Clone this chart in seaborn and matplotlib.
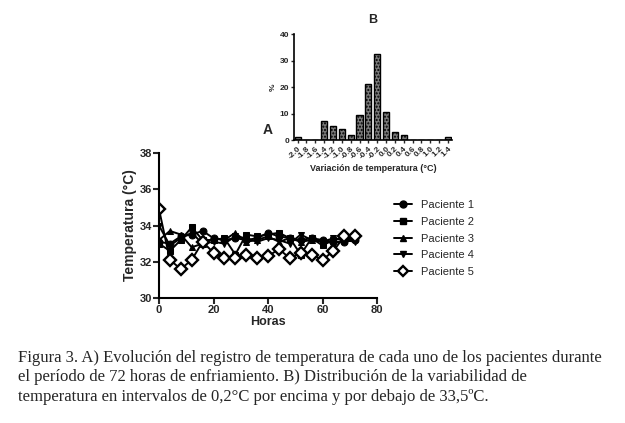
import numpy as np
import pandas as pd
import seaborn as sns
import matplotlib.pyplot as plt

# A) temperature per patient every 4 h
horas = [0, 4, 8, 12, 16, 20, 24, 28, 32, 36, 40, 44, 48, 52, 56, 60, 64, 68, 72]
paciente_1 = [33.1, 33.0, 33.4, 33.5, 33.7, 33.3, 33.2, 33.3, 33.2, 33.3, 33.6, 33.4, 33.3, 33.2, 33.3, 33.2, 33.1, 33.1, 33.2]
paciente_2 = [33.0, 32.6, 33.2, 33.9, 33.2, 33.2, 33.3, 32.4, 33.5, 33.4, 33.5, 33.6, 33.3, 32.4, 33.3, 32.9, 33.2, 33.3, 33.3]
paciente_3 = [33.2, 33.7, 33.5, 32.8, 33.0, 33.3, 33.2, 33.6, 33.1, 33.2, 33.4, 33.1, 33.3, 33.1, 33.2, 33.2, 33.0, 33.2, 33.3]
paciente_4 = [34.0, 32.9, 33.3, 33.6, 33.0, 33.1, 33.0, 33.4, 33.3, 33.1, 33.3, 33.2, 33.0, 33.5, 33.2, 33.1, 33.3, 33.2, 33.1]
paciente_5 = [34.9, 32.1, 31.6, 32.1, 33.1, 32.5, 32.2, 32.2, 32.4, 32.2, 32.3, 32.7, 32.2, 32.5, 32.4, 32.1, 32.6, 33.4, 33.4]

# B) distribution of variability
intervalos = ['-2.0', '-1.8', '-1.6', '-1.4', '-1.2', '-1.0', '-0.8', '-0.6', '-0.4',
              '-0.2', '0.0', '0.2', '0.4', '0.6', '0.8', '1.0', '1.2', '1.4']
porcentaje = [1, 0, 0, 7.2, 5.1, 4.1, 2.0, 9.4, 21.0, 32.5, 10.4, 3.0, 2.0, 0, 0, 0, 0, 1.0]

sns.set_style('white')
plt.rcParams['font.family'] = ['Liberation Sans', 'DejaVu Sans']
plt.rcParams['hatch.color'] = '#cfcfcf'

series = [paciente_1, paciente_2, paciente_3, paciente_4, paciente_5]
nombres = ['Paciente %d' % (i + 1) for i in range(5)]
df = pd.DataFrame({
    'Horas': horas * 5,
    'Temp': sum(series, []),
    'Paciente': sum([[n] * len(horas) for n in nombres], []),
})

fig = plt.figure(figsize=(6.25, 4.23), dpi=100)
fig.patch.set_facecolor('white')

# ---- panel A
ax = fig.add_axes([0.2544, 0.2955, 0.3488, 0.3428])
markers = {'Paciente 1': 'o', 'Paciente 2': 's', 'Paciente 3': '^',
           'Paciente 4': 'v', 'Paciente 5': 'D'}
sns.lineplot(data=df, x='Horas', y='Temp', hue='Paciente', style='Paciente',
             markers=markers, dashes=False, palette=['black'] * 5,
             linewidth=1.4, markersize=5, markeredgecolor='black', ax=ax, legend=False)
ax.lines[4].set_markerfacecolor('white')
ax.lines[4].set_markeredgewidth(1.7)
ax.lines[4].set_markersize(6)

ax.set_xlim(0, 80)
ax.set_ylim(30, 38)
ax.set_xticks([0, 20, 40, 60, 80])
ax.set_yticks([30, 32, 34, 36, 38])
sns.despine(ax=ax)
for s in ['left', 'bottom']:
    ax.spines[s].set_linewidth(1.5)
    ax.spines[s].set_color('black')
ax.tick_params(direction='out', length=4, width=1.5, labelsize=8, pad=1,
               left=True, bottom=True)
for t in ax.get_xticklabels() + ax.get_yticklabels():
    t.set_fontweight('bold')
ax.set_xlabel('Horas', fontsize=9, fontweight='bold', labelpad=1)
ax.set_ylabel('Temperatura (°C)', fontsize=10, fontweight='bold', labelpad=2)
ax.set_title('A', fontsize=10, fontweight='bold', pad=14)

# legend
handles = []
for n in nombres:
    h, = ax.plot([], [], color='black', marker=markers[n], markersize=5, linewidth=1.4)
    if n == 'Paciente 5':
        h.set_markerfacecolor('white')
        h.set_markeredgewidth(1.7)
    handles.append(h)
fig.legend(handles, nombres, loc='upper left', bbox_to_anchor=(0.615, 0.55),
           frameon=False, fontsize=8, handlelength=1.6, labelspacing=0.6,
           handletextpad=0.8)

# ---- panel B
bx = fig.add_axes([0.4704, 0.669, 0.2528, 0.2506])
dfb = pd.DataFrame({'Intervalo': intervalos, 'Porcentaje': porcentaje})
sns.barplot(data=dfb, x='Intervalo', y='Porcentaje', color='#7a7a7a',
            saturation=1, width=0.68, edgecolor='black', linewidth=1.0, ax=bx)
for p in bx.patches:
    p.set_hatch('.....')
bx.set_xlim(-0.4, 17.45)
bx.set_ylim(0, 40)
bx.set_yticks([0, 10, 20, 30, 40])
sns.despine(ax=bx)
for s in ['left', 'bottom']:
    bx.spines[s].set_linewidth(1.2)
    bx.spines[s].set_color('black')
bx.tick_params(direction='out', length=2.5, width=1, labelsize=6, pad=1,
               left=True, bottom=True)
plt.setp(bx.get_xticklabels(), rotation=45, ha='right', rotation_mode='anchor')
for t in bx.get_xticklabels() + bx.get_yticklabels():
    t.set_fontweight('bold')
bx.set_xlabel('Variación de temperatura (°C)', fontsize=6.5, fontweight='bold', labelpad=3)
bx.set_ylabel('%', fontsize=6, fontweight='bold', labelpad=2)
bx.set_title('B', fontsize=9, fontweight='bold', pad=8)

# caption
caption = ('Figura 3. A) Evolución del registro de temperatura de cada uno de los pacientes durante\n'
           'el período de 72 horas de enfriamiento. B) Distribución de la variabilidad de\n'
           'temperatura en intervalos de 0,2°C por encima y por debajo de 33,5ºC.')
fig.text(0.028, 0.172, caption, family=['Liberation Serif', 'DejaVu Serif'],
         fontsize=12, va='top', ha='left', linespacing=1.27)

fig.savefig('out.png', dpi=100, facecolor='white')
